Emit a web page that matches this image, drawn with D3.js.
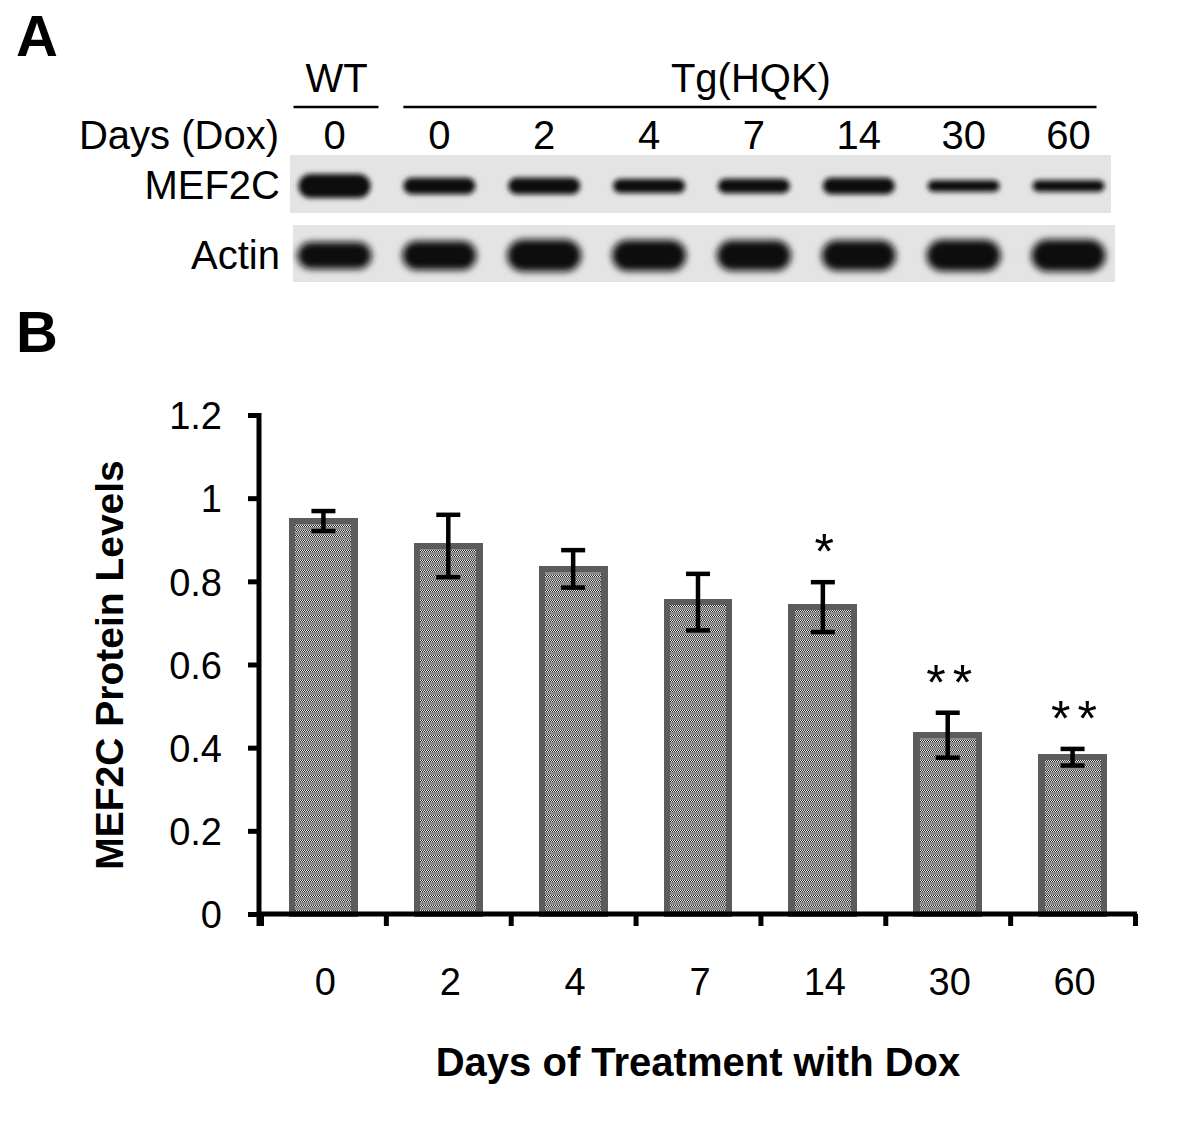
<!DOCTYPE html>
<html>
<head>
<meta charset="utf-8">
<script src="https://cdn.jsdelivr.net/npm/d3@7"></script>
<style>
  body { margin: 0; background: #fff; }
  text { font-family: "Liberation Sans", Arial, sans-serif; fill: #000; }
</style>
</head>
<body>
<svg id="fig" width="1200" height="1129"></svg>
<script>
// ---- data: panel B ----
const days    = ["0", "2", "4", "7", "14", "30", "60"]
const levels  = [0.945, 0.885, 0.83, 0.75, 0.738, 0.43, 0.377]
const errors  = [0.024, 0.075, 0.045, 0.068, 0.06, 0.054, 0.02]
const signif  = ["", "", "", "", "*", "**", "**"]
const yTicks  = [0, 0.2, 0.4, 0.6, 0.8, 1, 1.2]

// ---- data: panel A (western blot) ----
const laneDays   = ["0", "0", "2", "4", "7", "14", "30", "60"]
const laneGroups = [{ name: "WT", first: 0, last: 0 }, { name: "Tg(HQK)", first: 1, last: 7 }]
// relative band strength
const mef2cBand  = [1.0, 0.68, 0.68, 0.58, 0.6, 0.68, 0.48, 0.48]
const actinBand  = [0.85, 0.9, 1.0, 0.97, 0.95, 0.95, 0.98, 1.0]

const svg = d3.select("#fig")
const defs = svg.append("defs")

// dotted bar fill
const pat = defs.append("pattern")
  .attr("id", "dots").attr("patternUnits", "userSpaceOnUse")
  .attr("width", 6).attr("height", 5)
pat.append("rect").attr("width", 6).attr("height", 5).attr("fill", "#8a8a8a")
d3.range(6).forEach(i => {
  pat.append("rect").attr("x", i).attr("y", 0).attr("width", 1).attr("height", 1)
    .attr("fill", i % 2 ? "#2a2a2a" : "#e8e8e8")
  pat.append("rect").attr("x", i).attr("y", 1).attr("width", 1).attr("height", 1)
    .attr("fill", i % 2 ? "#e8e8e8" : "#2a2a2a")
})

defs.append("filter").attr("id", "blur1").attr("x", "-20%").attr("y", "-80%")
  .attr("width", "140%").attr("height", "260%")
  .append("feGaussianBlur").attr("stdDeviation", 2.8)
defs.append("filter").attr("id", "blur2").attr("x", "-20%").attr("y", "-60%")
  .attr("width", "140%").attr("height", "220%")
  .append("feGaussianBlur").attr("stdDeviation", 3.6)

// panel letters
svg.append("text").attr("x", 16).attr("y", 56)
  .style("font-size", "58px").style("font-weight", "bold").text("A")
svg.append("text").attr("x", 16).attr("y", 352)
  .style("font-size", "58px").style("font-weight", "bold").text("B")

// ================= Panel A =================
const lane = d3.scalePoint().domain(d3.range(laneDays.length)).range([331.5, 1065.5])
const blotFont = "40px"

const grp = svg.append("g").selectAll("g").data(laneGroups).join("g")
grp.append("line")
  .attr("x1", d => lane(d.first) - (d.first === d.last ? 38 : 33))
  .attr("x2", d => lane(d.last) + (d.first === d.last ? 47 : 31))
  .attr("y1", 107).attr("y2", 107)
  .attr("stroke", "#000").attr("stroke-width", 2.5)
grp.append("text")
  .attr("x", d => d.first === d.last ? lane(d.first) + 5 : (lane(d.first) + lane(d.last)) / 2)
  .attr("y", 92).attr("text-anchor", "middle").style("font-size", blotFont)
  .text(d => d.name)

svg.append("text").attr("x", 279).attr("y", 149).attr("text-anchor", "end")
  .style("font-size", blotFont).text("Days (Dox)")
svg.append("g").selectAll("text").data(laneDays).join("text")
  .attr("x", (d, i) => lane(i) + 3).attr("y", 149).attr("text-anchor", "middle")
  .style("font-size", blotFont).text(d => d)

// strips
const strips = [
  { name: "MEF2C", x0: 290, x1: 1111, y0: 155, y1: 213, bands: mef2cBand, h: 24, w: 72, blur: "blur1" },
  { name: "Actin", x0: 293, x1: 1115, y0: 225, y1: 282, bands: actinBand, h: 32, w: 74, blur: "blur2" }
]
strips.forEach(s => {
  const g = svg.append("g")
  g.append("rect").attr("x", s.x0).attr("y", s.y0)
    .attr("width", s.x1 - s.x0).attr("height", s.y1 - s.y0).attr("fill", "#e4e4e4")
  const cy = (s.y0 + s.y1) / 2 + 2
  const hs = d3.scaleLinear().domain([0, 1]).range([0, s.h])
  g.append("g").attr("filter", `url(#${s.blur})`)
    .selectAll("rect").data(s.bands).join("rect")
    .attr("x", (d, i) => lane(i) - s.w / 2 + 3)
    .attr("width", s.w)
    .attr("y", d => cy - hs(d) / 2)
    .attr("height", d => hs(d))
    .attr("rx", d => Math.min(s.w / 2, hs(d) / 2))
    .attr("fill", "#111")
  svg.append("text").attr("x", 280).attr("y", cy + 13).attr("text-anchor", "end")
    .style("font-size", blotFont).text(s.name)
})

// ================= Panel B =================
const x = d3.scaleBand().domain(days).range([261, 1135]).paddingInner(0.5).paddingOuter(0.25)
const xEdge = d3.scaleLinear().domain([0, days.length]).range([261, 1135])
const y = d3.scaleLinear().domain([0, 1.2]).range([914, 415])

const chart = svg.append("g")

// bars
chart.append("g").selectAll("rect").data(days).join("rect")
  .attr("x", d => x(d))
  .attr("width", x.bandwidth())
  .attr("y", (d, i) => y(levels[i]))
  .attr("height", (d, i) => y(0) - y(levels[i]))
  .attr("fill", "url(#dots)")
  .attr("stroke", "#5c5c5c").attr("stroke-width", 6.5)
  .attr("shape-rendering", "crispEdges")

// error bars
const eb = chart.append("g").attr("stroke", "#000").attr("stroke-width", 4.5)
days.forEach((d, i) => {
  const cx = x(d) + x.bandwidth() / 2
  const hi = y(levels[i] + errors[i]), lo = y(levels[i] - errors[i])
  eb.append("line").attr("x1", cx).attr("x2", cx).attr("y1", hi).attr("y2", lo)
  eb.append("line").attr("x1", cx - 12).attr("x2", cx + 12).attr("y1", hi).attr("y2", hi)
  eb.append("line").attr("x1", cx - 12).attr("x2", cx + 12).attr("y1", lo).attr("y2", lo)
})

// significance stars
chart.append("g").selectAll("text").data(days).join("text")
  .attr("x", d => x(d) + x.bandwidth() / 2 + 5)
  .attr("y", (d, i) => y(levels[i] + errors[i]) - 13)
  .attr("text-anchor", "middle")
  .style("font-size", "50px").style("letter-spacing", "7px")
  .text((d, i) => signif[i])

// y axis
const yAxis = chart.append("g").attr("transform", "translate(259,0)")
  .call(d3.axisLeft(y).tickValues(yTicks).tickSize(11).tickPadding(26)
    .tickSizeOuter(0).tickFormat(d3.format("")))
yAxis.select(".domain").attr("stroke-width", 5).attr("d", `M0,${y(1.2) - 2}V${y(0) + 12}`)
yAxis.selectAll(".tick line").attr("stroke-width", 5)
yAxis.selectAll("text").style("font-size", "38px").attr("dy", "0.36em")
yAxis.attr("font-family", null).attr("font-size", null)

// x axis (ticks at category boundaries)
const xAxis = chart.append("g").attr("transform", `translate(0,${y(0)})`)
  .call(d3.axisBottom(xEdge).tickValues(d3.range(days.length + 1)).tickSize(12)
    .tickSizeOuter(0).tickFormat(""))
xAxis.select(".domain").attr("stroke-width", 5).attr("d", `M${xEdge(0) - 2},0H${xEdge(days.length) + 2}`)
xAxis.selectAll(".tick line").attr("stroke-width", 5)

chart.append("g").selectAll("text").data(days).join("text")
  .attr("x", d => x(d) + x.bandwidth() / 2 + 2)
  .attr("y", 995).attr("text-anchor", "middle")
  .style("font-size", "38px").text(d => d)

// axis titles
chart.append("text").attr("x", 698).attr("y", 1076).attr("text-anchor", "middle")
  .style("font-size", "40px").style("font-weight", "bold")
  .text("Days of Treatment with Dox")
chart.append("text")
  .attr("transform", "translate(123,665) rotate(-90)")
  .attr("text-anchor", "middle")
  .style("font-size", "39px").style("font-weight", "bold")
  .text("MEF2C Protein Levels")
</script>
</body>
</html>
